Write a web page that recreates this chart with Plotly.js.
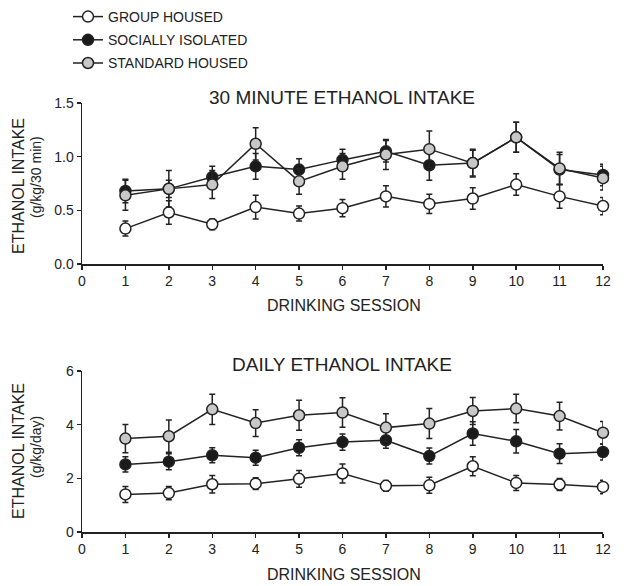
<!DOCTYPE html>
<html>
<head>
<meta charset="utf-8">
<script src="https://cdn.plot.ly/plotly-3.0.1.min.js"></script>
<style>html,body{margin:0;padding:0;background:#fff;}#chart{width:627px;height:586px;}</style>
</head>
<body>
<div id="chart"></div>
<script>
// Drinking sessions
const sessions = [1,2,3,4,5,6,7,8,9,10,11,12];
const seriesNames = ["GROUP HOUSED", "SOCIALLY ISOLATED", "STANDARD HOUSED"];

// 30 minute ethanol intake (g/kg/30 min), mean and SEM
const group30 = [0.33,0.48,0.37,0.53,0.47,0.52,0.63,0.56,0.61,0.74,0.63,0.54];
const group30Err = [0.07,0.11,0.05,0.11,0.07,0.08,0.10,0.09,0.10,0.10,0.11,0.08];
const iso30 = [0.68,0.70,0.81,0.91,0.88,0.97,1.05,0.92,0.94,1.18,0.88,0.83];
const iso30Err = [0.11,0.08,0.10,0.12,0.10,0.10,0.10,0.14,0.12,0.14,0.14,0.10];
const std30 = [0.64,0.70,0.74,1.12,0.77,0.91,1.02,1.07,0.94,1.18,0.89,0.80];
const std30Err = [0.14,0.17,0.13,0.15,0.12,0.12,0.14,0.17,0.13,0.14,0.15,0.11];

// Daily ethanol intake (g/kg/day), mean and SEM
const groupDay = [1.40,1.45,1.78,1.80,1.98,2.18,1.72,1.74,2.45,1.83,1.77,1.68];
const groupDayErr = [0.30,0.25,0.33,0.22,0.31,0.35,0.20,0.30,0.35,0.28,0.22,0.25];
const isoDay = [2.52,2.62,2.86,2.77,3.14,3.35,3.42,2.83,3.67,3.38,2.92,2.98];
const isoDayErr = [0.28,0.30,0.28,0.28,0.30,0.30,0.30,0.30,0.44,0.44,0.37,0.30];
const stdDay = [3.48,3.57,4.57,4.06,4.35,4.45,3.89,4.04,4.51,4.60,4.32,3.70];
const stdDayErr = [0.53,0.60,0.56,0.50,0.56,0.55,0.52,0.56,0.50,0.53,0.52,0.42];

const fills = ["#ffffff", "#1a1a1a", "#c8c8c8"];
const ink = "#222222";
const font = "Liberation Sans, Arial, sans-serif";

function makeTrace(y, err, i, xa, ya, showleg) {
  return {
    x: sessions, y: y, name: seriesNames[i], type: "scatter", mode: "lines+markers",
    xaxis: xa, yaxis: ya, showlegend: showleg, legendgroup: "g" + i, cliponaxis: false,
    line: {color: ink, width: 1.5},
    marker: {symbol: "circle", size: 11, color: fills[i], line: {color: ink, width: 1.5}},
    error_y: {type: "data", array: err, visible: true, color: ink, thickness: 1.5, width: 3}
  };
}

const data = [
  makeTrace(group30, group30Err, 0, "x", "y", true),
  makeTrace(iso30, iso30Err, 1, "x", "y", true),
  makeTrace(std30, std30Err, 2, "x", "y", true),
  makeTrace(groupDay, groupDayErr, 0, "x2", "y2", false),
  makeTrace(isoDay, isoDayErr, 1, "x2", "y2", false),
  makeTrace(stdDay, stdDayErr, 2, "x2", "y2", false)
];

const W = 627, H = 586, L = 82, R = 24;
const px = v => (v - L) / (W - L - R);
const py = v => 1 - v / H;

const xBase = {
  range: [0, 12], dtick: 1, tick0: 0, showgrid: false, zeroline: false,
  showline: true, linecolor: ink, linewidth: 1.5,
  ticks: "outside", ticklen: 4, tickwidth: 1.5, tickcolor: ink,
  tickfont: {family: font, size: 14, color: ink}, fixedrange: true
};
const yBase = {
  showgrid: false, zeroline: false, showline: true, linecolor: ink, linewidth: 1.5,
  ticks: "outside", ticklen: 4, tickwidth: 1.5, tickcolor: ink,
  tickfont: {family: font, size: 14, color: ink}, fixedrange: true
};

function ann(text, x, y, size, angle) {
  return {text: text, x: x, y: y, xref: "paper", yref: "paper", showarrow: false,
    xanchor: "center", yanchor: "middle", textangle: angle || 0,
    font: {family: font, size: size, color: ink}};
}

const layout = {
  width: W, height: H,
  margin: {l: L, r: R, t: 0, b: 0},
  paper_bgcolor: "#fff", plot_bgcolor: "#fff",
  xaxis: Object.assign({}, xBase, {anchor: "y", domain: [0, 1]}),
  yaxis: Object.assign({}, yBase, {anchor: "x", domain: [py(264), py(103)], range: [0, 1.5], dtick: 0.5, tickformat: ".1f"}),
  xaxis2: Object.assign({}, xBase, {anchor: "y2", domain: [0, 1]}),
  yaxis2: Object.assign({}, yBase, {anchor: "x2", domain: [py(532), py(371)], range: [0, 6], dtick: 2}),
  showlegend: true,
  legend: {x: px(68), y: py(1), xanchor: "left", yanchor: "top", tracegroupgap: 2,
    font: {family: font, size: 14, color: ink}, bgcolor: "rgba(0,0,0,0)", itemwidth: 30},
  annotations: [
    ann("30 MINUTE ETHANOL INTAKE", px(341.5), py(97), 19),
    ann("DAILY ETHANOL INTAKE", px(342), py(364), 19),
    ann("DRINKING SESSION", px(343.5), py(305), 16),
    ann("DRINKING SESSION", px(343.5), py(574), 16),
    ann("ETHANOL INTAKE", px(18), py(186), 16, -90),
    ann("(g/kg/30 min)", px(36), py(177), 14, -90),
    ann("ETHANOL INTAKE", px(18), py(451), 16, -90),
    ann("(g/kg/day)", px(36), py(447), 14, -90)
  ]
};

Plotly.newPlot("chart", data, layout, {displayModeBar: false, staticPlot: true});
</script>
</body>
</html>
